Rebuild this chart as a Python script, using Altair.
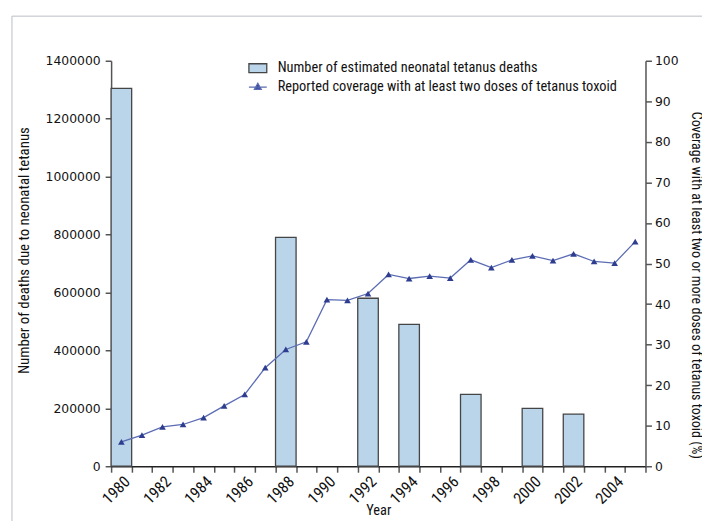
import altair as alt
import pandas as pd

# ---- data ----
years = [1980, 1981, 1982, 1983, 1984, 1985, 1986, 1987, 1988, 1989,
         1990, 1991, 1992, 1993, 1994, 1995, 1996, 1997, 1998, 1999,
         2000, 2001, 2002, 2003, 2004, 2005]
coverage = [6.0, 7.7, 9.7, 10.3, 12.0, 14.9, 17.7, 24.3, 28.8, 30.7,
            41.1, 40.9, 42.6, 47.3, 46.3, 46.9, 46.4, 50.9, 49.0, 50.9,
            51.9, 50.7, 52.4, 50.5, 50.1, 55.4]
death_years = [1980, 1988, 1992, 1994, 1997, 2000, 2002]
deaths = [1305000, 790000, 580000, 490000, 248000, 200000, 180000]

bar_label = "Number of estimated neonatal tetanus deaths"
line_label = "Reported coverage with at least two doses of tetanus toxoid"

bars_df = pd.DataFrame({"year": death_years, "deaths": deaths, "s": bar_label})
line_df = pd.DataFrame({"year": years, "coverage": coverage, "s": line_label})

COND = "Roboto Condensed, Liberation Sans Narrow, DejaVu Sans Condensed, sans-serif"
NUM = "DejaVu Sans, sans-serif"
AX = "#555555"

x_enc = alt.X(
    "year:O",
    scale=alt.Scale(domain=years, paddingInner=0, paddingOuter=0),
    axis=alt.Axis(
        title="Year", tickBand="extent", labelAngle=-45,
        labelExpr="datum.value % 2 == 0 ? datum.label : ''",
        labelOverlap=False, labelFont=COND, labelFontSize=16,
        labelPadding=1, titleY=49, titleBaseline="alphabetic",
        titleFontSize=14.5, domainColor="#222222",
    ),
)

bars = alt.Chart(bars_df).mark_bar(stroke="#454545", strokeWidth=1.3).encode(
    x=x_enc,
    y=alt.Y(
        "deaths:Q",
        scale=alt.Scale(domain=[0, 1400000], nice=False),
        axis=alt.Axis(
            title="Number of deaths due to neonatal tetanus",
            values=[0, 200000, 400000, 600000, 800000, 1000000, 1200000, 1400000],
            format="d", titlePadding=14, labelPadding=5, titleFontSize=15,
            titleY=191,
        ),
    ),
    fill=alt.Fill(
        "s:N",
        scale=alt.Scale(range=["#bad5ea"]),
        legend=alt.Legend(
            orient="none", legendX=138, legendY=-2.5, title=None,
            symbolType="M-1,-0.5L1,-0.5L1,0.5L-1,0.5Z", symbolSize=324,
            symbolStrokeColor="#454545",
            symbolStrokeWidth=1.3, labelOffset=10, padding=0, labelLimit=600,
            labelFont=COND, labelFontSize=14.5, labelColor="#111111",
        ),
    ),
)

y_cov = alt.Y(
    "coverage:Q",
    scale=alt.Scale(domain=[0, 100], nice=False),
    axis=alt.Axis(
        orient="right",
        title="Coverage with at least two or more doses of tetanus toxoid (%)",
        values=[0, 10, 20, 30, 40, 50, 60, 70, 80, 90, 100],
        titlePadding=11, labelPadding=3, titleFontSize=14.2, titleY=226,
        titleLimit=600,
    ),
)

line = alt.Chart(line_df).mark_line(strokeWidth=1.3).encode(
    x=x_enc,
    y=y_cov,
    stroke=alt.Stroke(
        "s:N",
        scale=alt.Scale(range=["#5b6cb3"]),
        legend=alt.Legend(
            orient="none", legendX=138, legendY=16.5, title=None,
            symbolType="M-1,0L1,0M0,-0.42L0.38,0.25L-0.38,0.25Z",
            symbolSize=324, symbolFillColor="#2e3d8f", symbolStrokeWidth=1.3,
            labelOffset=10, padding=0, labelLimit=600,
            labelFont=COND, labelFontSize=14.5, labelColor="#111111",
        ),
    ),
)

points = alt.Chart(line_df).mark_point(
    shape="triangle-up", filled=True, size=45, color="#2e3d8f", opacity=1
).encode(x=x_enc, y=y_cov)

frame_df = pd.DataFrame({"k": [0]})
frame_top = alt.Chart(frame_df).mark_rule(color="#b9bdc5", strokeWidth=1).encode(
    x=alt.value(-100), x2=alt.value(600), y=alt.value(-45)
)
frame_left = alt.Chart(frame_df).mark_rule(color="#b9bdc5", strokeWidth=1).encode(
    x=alt.value(-100), y=alt.value(-45), y2=alt.value(470)
)

chart = alt.layer(
    frame_top, frame_left, bars, alt.layer(line, points)
).resolve_scale(y="independent").properties(
    width=539, height=409,
    autosize=alt.AutoSizeParams(type="none"),
    padding={"left": 104, "top": 51, "right": 57, "bottom": 53},
).configure_view(stroke=None).configure_axis(
    domainColor=AX, domainWidth=1.5, tickColor=AX, tickWidth=1.5, tickSize=6,
    labelFont=NUM, labelFontSize=12.5, labelColor="#111111",
    titleFont=COND, titleFontSize=14, titleFontWeight="normal", titleColor="#111111",
    grid=False,
)

chart.save("out.html", embed_options={"renderer": "svg", "actions": False})
